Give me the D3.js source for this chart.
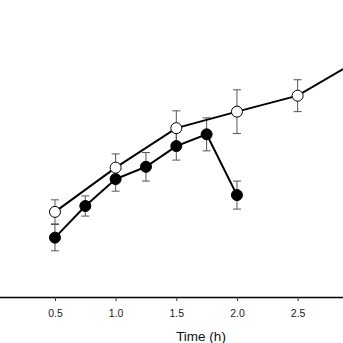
<!DOCTYPE html>
<html><head><meta charset="utf-8">
<script src="https://cdn.jsdelivr.net/npm/d3@7"></script>
<style>html,body{margin:0;padding:0;background:#fff;overflow:hidden}</style>
</head><body>
<svg id="c" width="343" height="343"></svg>
<script>
const xTicks = [0, 0.5, 1.0, 1.5, 2.0, 2.5, 3.0];
const tickLabels = ["0", "0.5", "1.0", "1.5", "2.0", "2.5", "3.0"];
const openTime = [0.5, 1.0, 1.5, 2.0, 2.5, 3.0];
const openValue = [3.04, 4.62, 6.03, 6.62, 7.19, 8.46];
const openErr = [0.43, 0.49, 0.62, 0.78, 0.57, 0.5];
const filledTime = [0.5, 0.75, 1.0, 1.25, 1.5, 1.75, 2.0];
const filledValue = [2.12, 3.25, 4.21, 4.65, 5.39, 5.81, 3.64];
const filledErr = [0.47, 0.36, 0.43, 0.51, 0.5, 0.59, 0.5];
const xLabel = "Time (h)";

const svg = d3.select("#c");
const x = d3.scaleLinear().domain([0, 3]).range([-5.7, 358.3]);
const y = d3.scaleLinear().domain([0, 10]).range([297, 17]);

const ax = svg.append("g").attr("transform", "translate(0,297)")
  .call(d3.axisBottom(x).tickValues(xTicks).tickSize(4).tickSizeOuter(0)
    .tickFormat((d, i) => tickLabels[i]));
ax.attr("font-family", "Liberation Sans, Arial, sans-serif").attr("font-size", 10.5);
ax.select(".domain").attr("stroke", "#000").attr("stroke-width", 1.3);
ax.selectAll(".tick line").attr("stroke", "#333").attr("stroke-width", 1);
ax.selectAll(".tick text").attr("fill", "#222").attr("y", 13).attr("dy", "0.71em");

svg.append("text").attr("x", 201).attr("y", 341).attr("text-anchor", "middle")
  .attr("font-family", "Liberation Sans, Arial, sans-serif").attr("font-size", 13.5)
  .attr("fill", "#111").text(xLabel);

const all = [
  {times: filledTime, vals: filledValue, errs: filledErr, fill: "#000"},
  {times: openTime, vals: openValue, errs: openErr, fill: "#fff"}
].map(s => Object.assign(s, {data: s.times.map((t, i) => ({t, v: s.vals[i], e: s.errs[i]}))}));

const gE = svg.append("g"), gL = svg.append("g"), gC = svg.append("g");
all.forEach(s => {
  const eb = gE.append("g").selectAll("g").data(s.data).enter().append("g");
  eb.append("line").attr("x1", d => x(d.t)).attr("x2", d => x(d.t))
    .attr("y1", d => y(d.v + d.e)).attr("y2", d => y(d.v - d.e))
    .attr("stroke", "#555").attr("stroke-width", 1);
  [1, -1].forEach(k => {
    eb.append("line").attr("x1", d => x(d.t) - 4).attr("x2", d => x(d.t) + 4)
      .attr("y1", d => y(d.v + k * d.e)).attr("y2", d => y(d.v + k * d.e))
      .attr("stroke", "#555").attr("stroke-width", 1);
  });
  gL.append("path").datum(s.data)
    .attr("d", d3.line().x(d => x(d.t)).y(d => y(d.v)))
    .attr("fill", "none").attr("stroke", "#000").attr("stroke-width", 2);
});
all.forEach(s => {
  gC.append("g").selectAll("circle").data(s.data).enter().append("circle")
    .attr("cx", d => x(d.t)).attr("cy", d => y(d.v)).attr("r", 5.5)
    .attr("fill", s.fill).attr("stroke", "#000").attr("stroke-width", 1);
});
</script>
</body></html>
